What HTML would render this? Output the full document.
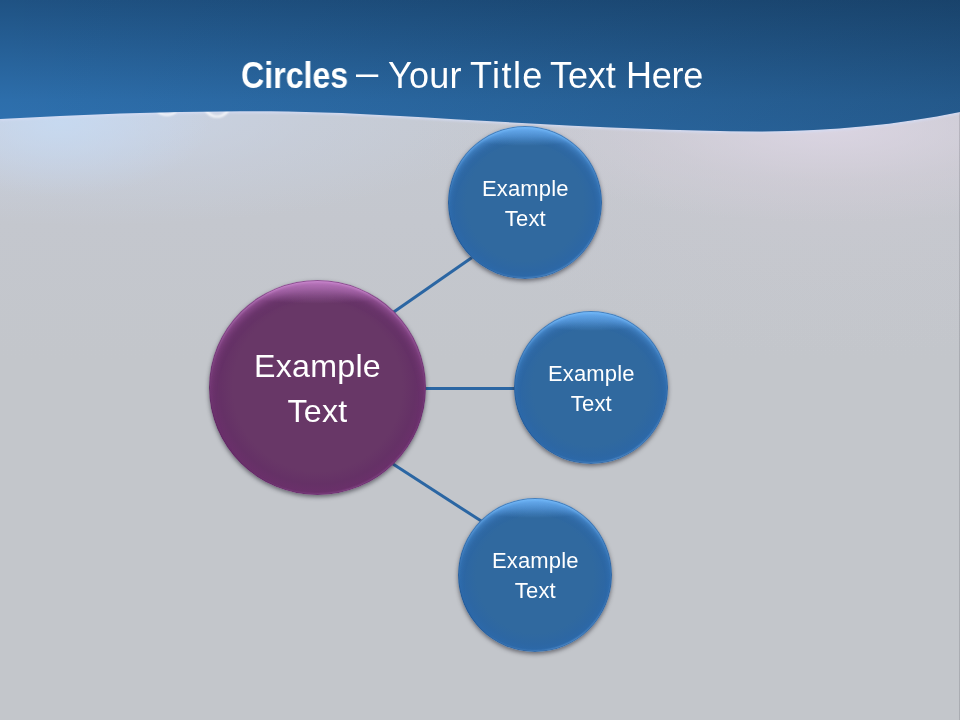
<!DOCTYPE html>
<html lang="en">
<head>
<meta charset="utf-8">
<title>Circles – Your Title Text Here</title>
<style>
*{box-sizing:border-box;margin:0;padding:0}
html,body{width:960px;height:720px;overflow:hidden;background:#c3c6cb}
body{position:relative;font-family:"Liberation Sans","DejaVu Sans",sans-serif;color:#fff}
#slide{position:absolute;left:0;top:0;width:960px;height:720px;overflow:hidden;
  background:
   linear-gradient(90deg, rgba(0,0,0,0) 0, rgba(0,0,0,0) 959px, rgba(40,40,50,.16) 959px),
   radial-gradient(ellipse 150px 75px at 60px 122px, rgba(198,218,242,.85), rgba(198,216,240,.4) 55%, rgba(198,214,238,0) 100%),
   radial-gradient(ellipse 420px 110px at 90px 116px, rgba(204,216,236,.75), rgba(202,212,230,.35) 55%, rgba(200,208,224,0) 100%),
   radial-gradient(ellipse 330px 95px at 830px 128px, rgba(222,215,230,.8), rgba(214,208,220,.4) 55%, rgba(208,204,212,0) 100%),
   radial-gradient(ellipse 420px 230px at 830px 128px, rgba(208,203,210,.55), rgba(204,202,208,.25) 55%, rgba(200,200,205,0) 100%),
   linear-gradient(180deg,#c5c9d1 0,#c5c9d1 120px,#c4c7ce 220px,#c3c6cb 360px,#c3c6cb 720px);}
#art{position:absolute;left:0;top:0;width:960px;height:720px}
h1{position:absolute;left:0;top:54px;width:960px;height:44px;font-weight:normal;font-size:36px;line-height:44px;white-space:nowrap}
h1 span,h1 b{position:absolute;top:0;display:block;transform-origin:0 50%;white-space:nowrap;will-change:transform}
h1 b{font-weight:bold;left:240.700px;transform:scaleX(.893)}
#w2{left:356.300px;top:-3.200px;transform:scaleX(1.11)}
#w3{left:388.300px;letter-spacing:.23px}
#w4{left:470px;letter-spacing:1.43px}
#w5{left:550px;letter-spacing:-.1px}
#w6{left:625.700px;letter-spacing:-.23px}
.c{position:absolute;border-radius:50%;display:flex;align-items:center;justify-content:center;text-align:center}
.c span{display:block;will-change:transform}
.big{left:209px;top:280px;width:217px;height:215px;font-size:32.2px;line-height:45.4px;letter-spacing:.25px;padding-top:4px;
  background:radial-gradient(ellipse 56% 11% at 50% 0%, rgba(205,140,210,.7) 0, rgba(195,130,200,.4) 55%, rgba(190,125,195,0) 100%),radial-gradient(ellipse 50% 50% at 50% 50%, #683767 0, #683767 78%, #653166 90%, #6b306b 100%);
  box-shadow:0 2px 4px rgba(30,30,40,.55), inset 0 0 0 1px rgba(80,30,85,.5), inset 0 3px 3px -1px rgba(215,150,220,.7), inset 0 11px 11px -5px rgba(195,125,200,.65), inset -1px -2px 2px -1px rgba(180,110,185,.6)}
.sm{width:154px;height:153px;font-size:22px;line-height:30px;letter-spacing:.15px;padding-top:3px;
  background:radial-gradient(ellipse 56% 13% at 50% 0%, rgba(115,185,250,.75) 0, rgba(105,175,245,.45) 55%, rgba(100,170,240,0) 100%),radial-gradient(ellipse 50% 50% at 50% 50%, #30699f 0, #30699f 76%, #2d67a3 90%, #2c69aa 100%);
  box-shadow:0 2px 4px rgba(30,30,40,.55), inset 0 0 0 1px rgba(25,70,125,.5), inset 0 3px 3px -1px rgba(125,195,255,.75), inset 0 10px 10px -5px rgba(110,180,250,.7), inset -1px -2px 2px -1px rgba(120,180,240,.8)}
#s1{left:448px;top:126px}
#s2{left:514px;top:311px}
#s3{left:458px;top:498px;height:154px;padding-top:2px}
</style>
</head>
<body>
<div id="slide">
<svg id="art" width="960" height="720" viewBox="0 0 960 720">
  <defs>
    <linearGradient id="hg" gradientUnits="userSpaceOnUse" x1="0" y1="0" x2="0" y2="132">
      <stop offset="0" stop-color="#1f5283"/>
      <stop offset=".76" stop-color="#2d6eab"/>
      <stop offset="1" stop-color="#2f72b1"/>
    </linearGradient>
    <linearGradient id="hx" gradientUnits="userSpaceOnUse" x1="0" y1="0" x2="960" y2="0">
      <stop offset="0" stop-color="#04101c" stop-opacity="0"/>
      <stop offset="1" stop-color="#04101c" stop-opacity=".23"/>
    </linearGradient>
    <filter id="bl" x="-50%" y="-50%" width="200%" height="200%"><feGaussianBlur stdDeviation=".8"/></filter>
  </defs>
  <path d="M0,119C80,114.600 160,111.500 240,111.200C290,111.100 340,112.300 400,116C520,123 650,131 760,131.400C830,131.300 898,124.800 960,112" fill="none" stroke="#d4dcf4" stroke-width="3.400" opacity=".85" filter="url(#bl)"/>
  <g fill="none" stroke="#fff" stroke-width="2.200" filter="url(#bl)" opacity=".9">
    <ellipse cx="167" cy="106" rx="11" ry="9"/>
    <ellipse cx="217" cy="106" rx="12" ry="10.500"/>
  </g>
  <path d="M0,0H960V112C898,124.800 830,131.300 760,131.400C650,131 520,123 400,116C340,112.300 290,111.100 240,111.200C160,111.500 80,114.600 0,119Z" fill="url(#hg)"/>
  <path d="M0,0H960V112C898,124.800 830,131.300 760,131.400C650,131 520,123 400,116C340,112.300 290,111.100 240,111.200C160,111.500 80,114.600 0,119Z" fill="url(#hx)"/>
  <g stroke="#2b66a3" stroke-width="3" stroke-linecap="butt" fill="none">
    <line x1="393" y1="312.500" x2="472" y2="257.500"/>
    <line x1="424" y1="388.500" x2="516" y2="388.500"/>
    <line x1="393" y1="464" x2="482" y2="521.600"/>
  </g>
</svg>
<h1><b>Circles</b> <span id="w2">–</span> <span id="w3">Your</span> <span id="w4">Title</span> <span id="w5">Text</span> <span id="w6">Here</span></h1>
<div class="c big"><span>Example<br>Text</span></div>
<div class="c sm" id="s1"><span>Example<br>Text</span></div>
<div class="c sm" id="s2"><span>Example<br>Text</span></div>
<div class="c sm" id="s3"><span>Example<br>Text</span></div>
</div>
</body>
</html>
